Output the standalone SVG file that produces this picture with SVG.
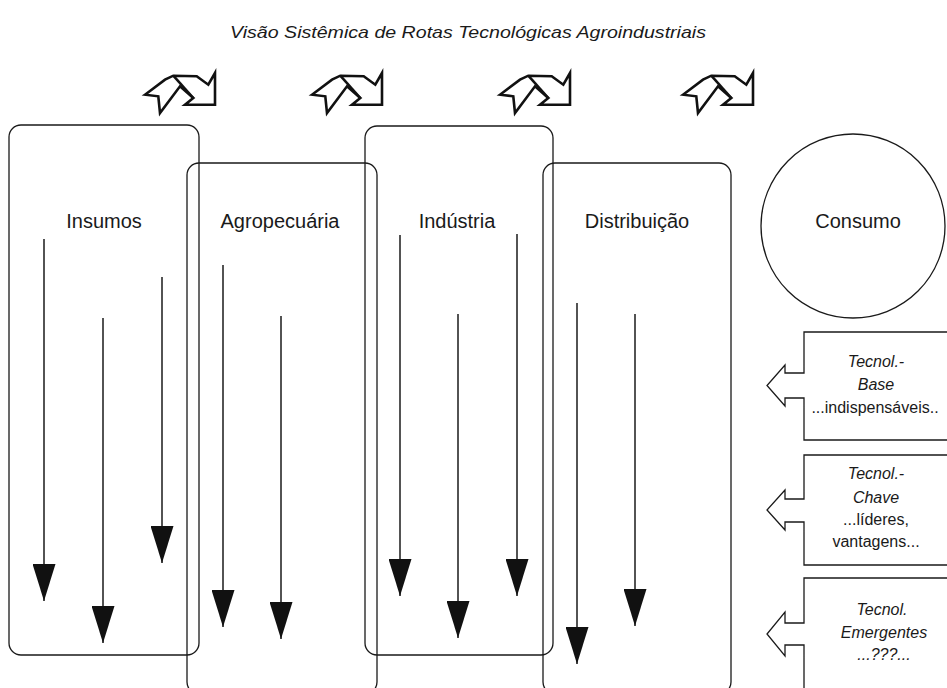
<svg xmlns="http://www.w3.org/2000/svg" width="947" height="688" viewBox="0 0 947 688">
<defs>
<style>
.box{fill:none;stroke:#1a1a1a;stroke-width:1.3}
.lbl{font-family:"Liberation Sans",Arial,sans-serif;font-size:20px;fill:#1a1a1a;text-anchor:middle}
.t{font-family:"Liberation Sans",Arial,sans-serif;font-size:16px;fill:#1a1a1a;text-anchor:middle}
.it{font-style:italic}
.ar{stroke:#1a1a1a;stroke-width:1.5;fill:none;marker-end:url(#head)}
.ico{fill:#fff;stroke:#111;stroke-width:2.6;stroke-linejoin:miter}
</style>
<marker id="head" viewBox="0 0 37 23" refX="37" refY="11.5" markerWidth="37" markerHeight="23" markerUnits="userSpaceOnUse" orient="auto">
<path d="M0,0 L37,11.5 L0,23 Z" fill="#111"/>
</marker>
<g id="cyc">
<path class="ico" d="M0,21.7 L20,6.7 L28.3,2.7 L51.7,3.3 L63.3,11.7 L70,0 L70,31.7 L40,31.7 L48.3,25 L35,13.3 L15,40 L13.3,23.3 Z"/>
<path class="ico" d="M28.3,2.7 L48.3,25"/>
</g>
</defs>
<rect width="947" height="688" fill="#fff"/>
<text x="230" y="38" font-family="Liberation Sans,Arial,sans-serif" font-size="17" font-style="italic" fill="#1a1a1a" textLength="476" lengthAdjust="spacingAndGlyphs">Visão Sistêmica de Rotas Tecnológicas Agroindustriais</text>

<g id="icons">
<use href="#cyc" x="145" y="73"/>
<use href="#cyc" x="312" y="73"/>
<use href="#cyc" x="500" y="73"/>
<use href="#cyc" x="683" y="73"/>
</g>

<g id="insumos">
<rect class="box" x="9" y="125" width="190" height="530" rx="12"/>
<text class="lbl" x="104" y="228">Insumos</text>
</g>
<g id="agropecuaria">
<rect class="box" x="187" y="163" width="190" height="531" rx="12"/>
<text class="lbl" x="280" y="228">Agropecuária</text>
</g>
<g id="industria">
<rect class="box" x="365" y="126" width="188" height="529" rx="12"/>
<text class="lbl" x="457" y="228">Indústria</text>
</g>
<g id="distribuicao">
<rect class="box" x="543" y="163" width="188" height="531" rx="12"/>
<text class="lbl" x="637" y="228">Distribuição</text>
</g>
<g id="consumo">
<circle class="box" cx="853" cy="226" r="92"/>
<text class="lbl" x="858" y="228">Consumo</text>
</g>

<g id="tec-base">
<path class="box" d="M950,332 H804 V373 H785 V365 L767,385.5 L785,406 V398 H804 V440 H950"/>
<text class="t it" x="876" y="367">Tecnol.-</text>
<text class="t it" x="876" y="390">Base</text>
<text class="t" x="875" y="413">...indispensáveis..</text>
</g>
<g id="tec-chave">
<path class="box" d="M950,455 H804 V499 H785 V490 L767,510 L785,530 V522 H804 V565 H950"/>
<text class="t it" x="876" y="479">Tecnol.-</text>
<text class="t it" x="876" y="503">Chave</text>
<text class="t" x="876" y="525">...líderes,</text>
<text class="t" x="876" y="547">vantagens...</text>
</g>
<g id="tec-emergentes">
<path class="box" d="M950,578 H804 V623 H785 V612 L767,634 L785,656 V645 H804 V700"/>
<text class="t it" x="882" y="615">Tecnol.</text>
<text class="t it" x="884" y="638">Emergentes</text>
<text class="t it" x="884" y="660">...???...</text>
</g>

<g id="connectors">
<line class="ar" x1="44" y1="239" x2="44" y2="601"/>
<line class="ar" x1="103" y1="318" x2="103" y2="643"/>
<line class="ar" x1="162" y1="277" x2="162" y2="563"/>
<line class="ar" x1="223" y1="265" x2="223" y2="627"/>
<line class="ar" x1="281" y1="316" x2="281" y2="639"/>
<line class="ar" x1="400" y1="235" x2="400" y2="596"/>
<line class="ar" x1="458" y1="314" x2="458" y2="638"/>
<line class="ar" x1="517" y1="234" x2="517" y2="596"/>
<line class="ar" x1="577" y1="303" x2="577" y2="664"/>
<line class="ar" x1="635" y1="314" x2="635" y2="626"/>
</g>
</svg>
